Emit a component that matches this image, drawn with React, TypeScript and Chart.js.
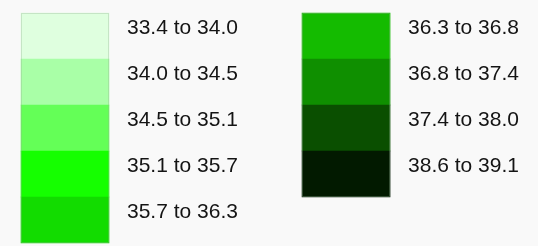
import React, { useEffect, useRef } from "react";
import { Chart, registerables } from "chart.js";

Chart.register(...registerables);

const leftLabels = ["33.4 to 34.0", "34.0 to 34.5", "34.5 to 35.1", "35.1 to 35.7", "35.7 to 36.3"];
const rightLabels = ["36.3 to 36.8", "36.8 to 37.4", "37.4 to 38.0", "38.6 to 39.1"];
const leftColors = ["#dfffdf", "#a9ffa7", "#64ff57", "#15ff00", "#12dc00"];
const rightColors = ["#14bb00", "#0f8f00", "#0a4f00", "#021a00"];
const columnIndex = [0, 1];

const BG = "#f9f9f9";

const labelPlugin = {
  id: "swatchLabels",
  beforeDraw(chart: any) {
    const { ctx } = chart;
    ctx.save();
    ctx.fillStyle = BG;
    ctx.fillRect(0, 0, chart.width, chart.height);
    ctx.restore();
  },
  afterDatasetsDraw(chart: any) {
    const { ctx } = chart;
    ctx.save();
    ctx.font = "21px 'Liberation Sans', Arial, sans-serif";
    ctx.fillStyle = "#141414";
    ctx.textBaseline = "alphabetic";
    ctx.textAlign = "left";
    chart.data.datasets.forEach((ds: any, di: number) => {
      const meta = chart.getDatasetMeta(di);
      meta.data.forEach((bar: any, i: number) => {
        const p = bar.getProps(["x", "y", "base", "width"], true);
        const top = Math.min(p.y, p.base);
        const right = p.x + p.width / 2;
        ctx.fillText(ds.rowLabels[i], right + 18, top + 21);
      });
      if (meta.data.length) {
        const first = meta.data[0].getProps(["x", "y", "base", "width"], true);
        const last = meta.data[meta.data.length - 1].getProps(["x", "y", "base", "width"], true);
        const t = Math.min(first.y, first.base);
        const b = Math.max(last.y, last.base);
        ctx.strokeStyle = "rgba(150,180,150,0.35)";
        ctx.lineWidth = 1;
        ctx.strokeRect(Math.round(first.x - first.width / 2) + 0.5, Math.round(t) + 0.5, Math.round(first.width) - 1, Math.round(b - t) - 1);
      }
    });
    ctx.restore();
  },
};

export default function App() {
  const ref = useRef<HTMLCanvasElement>(null);
  useEffect(() => {
    if (!ref.current) return;
    const mk = (labels: string[], colors: string[], col: number) => ({
      label: "col" + col,
      rowLabels: labels,
      data: labels.map((_, i) => ({ x: col, y: [i, i + 1] })),
      backgroundColor: colors,
      borderWidth: 0,
      barThickness: 88,
      grouped: false,
      clip: false as any,
    });
    const chart = new Chart(ref.current, {
      type: "bar",
      data: {
        datasets: [
          mk(leftLabels, leftColors, columnIndex[0]) as any,
          mk(rightLabels, rightColors, columnIndex[1]) as any,
        ],
      },
      options: {
        animation: false,
        responsive: false,
        layout: { padding: { top: 13, bottom: 3, left: 0, right: 0 } },
        scales: {
          x: { type: "linear", min: -0.2313, max: 1.683, offset: false, display: false },
          y: { type: "linear", min: 0, max: 5, reverse: true, offset: false, display: false },
        },
        plugins: { legend: { display: false }, tooltip: { enabled: false } },
      },
      plugins: [labelPlugin],
    });
    return () => chart.destroy();
  }, []);
  return (
    <div style={{ position: "fixed", left: 0, top: 0, width: 538, height: 246, background: BG }}>
      <canvas ref={ref} width={538} height={246} />
    </div>
  );
}
